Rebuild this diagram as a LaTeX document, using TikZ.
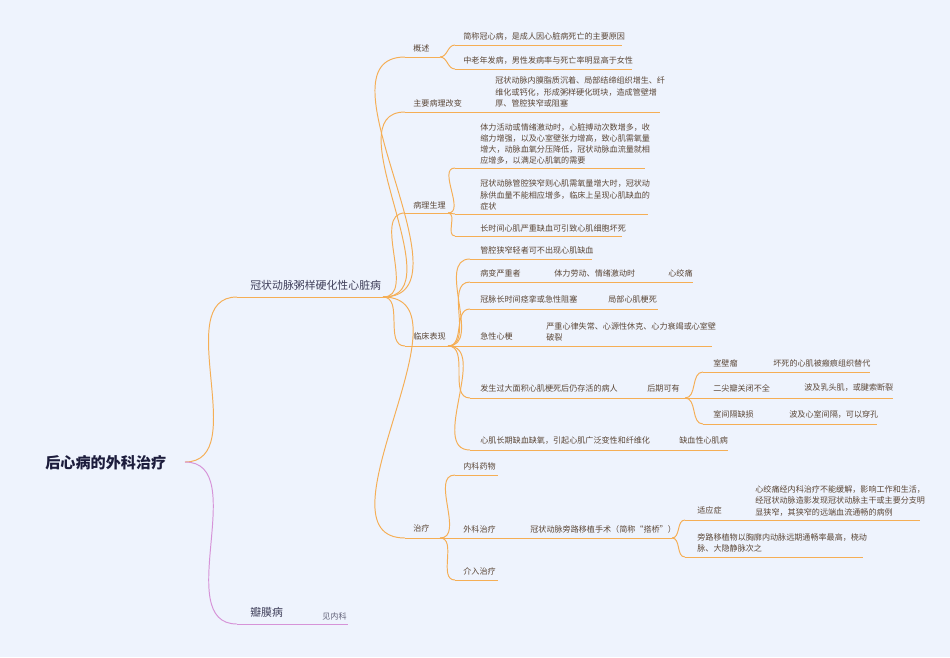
\documentclass[tikz,border=0pt]{standalone}
\usepackage{fontspec}
\setmainfont{Noto Sans CJK SC}
\definecolor{bgblue}{HTML}{EEF3FD}
\definecolor{brorange}{HTML}{F5AE55}
\definecolor{brpink}{HTML}{D693D8}
\definecolor{txtbrown}{HTML}{5A4636}
\definecolor{titlenavy}{HTML}{1C1C3C}
\tikzset{
  br/.style={draw=brorange, line width=0.55pt},
  brp/.style={draw=brpink, line width=0.55pt},
  leaf/.style={anchor=west, inner sep=0pt, text=txtbrown, font=\fontsize{4.6}{6.4}\selectfont, align=left},
  lone/.style={anchor=west, inner sep=0pt, text=titlenavy!85, font=\fontsize{6.2}{7.5}\selectfont},
  rootnode/.style={anchor=west, inner sep=0pt, text=titlenavy, font=\bfseries\fontsize{8.6}{10}\selectfont},
}
% underline with named ends
\newcommand\mmline[5][br]{%
  \coordinate (#2-a) at (#3,#5);
  \coordinate (#2-b) at (#4,#5);
  \draw[#1] (#2-a) -- (#2-b);}
\newcommand\mmlink[3][br]{\draw[#1] (#2) to[out=0,in=180] (#3);}
\begin{document}
\begin{tikzpicture}[x=0.02cm, y=-0.02cm]
  \fill[bgblue] (0,0) rectangle (950,657);
  \useasboundingbox (0,0) rectangle (950,657);

  % root
  \node[rootnode] (root) at (45,463) {后心病的外科治疗};
  \coordinate (root-b) at (185,462);

  % level one
  \node[lone] (cad) at (250,285) {冠状动脉粥样硬化性心脏病};
  \mmline{cad}{237}{383}{297}
  \node[lone] (valve) at (250,612) {瓣膜病};
  \mmline[brp]{valve}{237}{320}{624}
  \node[leaf, text=titlenavy!70] (valvesee) at (322,616) {见内科};
  \mmline[brp]{valvesee}{320}{348}{624}
  \mmlink{root-b}{cad-a}
  \mmlink[brp]{root-b}{valve-a}

  % 概述
  \node[leaf] (gs) at (413,48) {概述};
  \mmline{gs}{405}{440}{57}
  \node[leaf] (gs1) at (463,37) {简称冠心病，是成人因心脏病死亡的主要原因};
  \mmline{gs1}{455}{622}{45}
  \node[leaf] (gs2) at (463,60) {中老年发病，男性发病率与死亡率明显高于女性};
  \mmline{gs2}{455}{632}{69}
  \mmlink{cad-b}{gs-a}
  \mmlink{gs-b}{gs1-a}
  \mmlink{gs-b}{gs2-a}

  % 主要病理改变
  \node[leaf] (bl) at (413,103) {主要病理改变};
  \mmline{bl}{405}{488}{112}
  \node[leaf] (bl1) at (495,92) {冠状动脉内膜脂质沉着、局部结缔组织增生、纤\\维化或钙化，形成粥样硬化斑块，造成管壁增\\厚、管腔狭窄或阻塞};
  \mmline{bl1}{488}{660}{112}
  \mmlink{cad-b}{bl-a}

  % 病理生理
  \node[leaf] (sl) at (413,205) {病理生理};
  \mmline{sl}{405}{448}{213}
  \node[leaf] (sl1) at (480,144) {体力活动或情绪激动时，心脏搏动次数增多，收\\缩力增强，以及心室壁张力增高，致心肌需氧量\\增大，动脉血氧分压降低，冠状动脉血流量就相\\应增多，以满足心肌氧的需要};
  \mmline{sl1}{455}{645}{168}
  \node[leaf] (sl2) at (480,195) {冠状动脉管腔狭窄则心肌需氧量增大时，冠状动\\脉供血量不能相应增多，临床上呈现心肌缺血的\\症状};
  \mmline{sl2}{455}{648}{214}
  \node[leaf] (sl3) at (480,228) {长时间心肌严重缺血可引致心肌细胞坏死};
  \mmline{sl3}{455}{622}{236}
  \mmlink{cad-b}{sl-a}
  \mmlink{sl-b}{sl1-a}
  \mmlink{sl-b}{sl2-a}
  \mmlink{sl-b}{sl3-a}

  % 临床表现
  \node[leaf] (lc) at (413,336) {临床表现};
  \mmline{lc}{405}{448}{346}
  \mmlink{cad-b}{lc-a}
  \node[leaf] (lc1) at (480,250) {管腔狭窄轻者可不出现心肌缺血};
  \mmline{lc1}{470}{592}{259}
  \node[leaf] (lc2) at (480,273) {病变严重者};
  \mmline{lc2}{470}{545}{282}
  \node[leaf] (lc2a) at (554,273) {体力劳动、情绪激动时};
  \mmline{lc2a}{545}{660}{282}
  \node[leaf] (lc2b) at (668,273) {心绞痛};
  \mmline{lc2b}{660}{693}{282}
  \node[leaf] (lc3) at (480,299) {冠脉长时间痉挛或急性阻塞};
  \mmline{lc3}{470}{605}{309}
  \node[leaf] (lc3a) at (608,299) {局部心肌梗死};
  \mmline{lc3a}{605}{658}{309}
  \node[leaf] (lc4) at (480,336) {急性心梗};
  \mmline{lc4}{470}{540}{346}
  \node[leaf] (lc4a) at (546,332) {严重心律失常、心源性休克、心力衰竭或心室壁\\破裂};
  \mmline{lc4a}{540}{712}{346}
  \node[leaf] (lc5) at (480,388) {发生过大面积心肌梗死后仍存活的病人};
  \mmline{lc5}{470}{640}{398}
  \node[leaf] (lc5a) at (647,388) {后期可有};
  \mmline{lc5a}{640}{685}{398}
  \node[leaf] (hq1) at (713,363) {室壁瘤};
  \mmline{hq1}{703}{765}{372}
  \node[leaf] (hq1a) at (773,363) {坏死的心肌被瘢痕组织替代};
  \mmline{hq1a}{765}{870}{372}
  \node[leaf] (hq2) at (713,388) {二尖瓣关闭不全};
  \mmline{hq2}{703}{795}{398}
  \node[leaf] (hq2a) at (804,388) {波及乳头肌，或腱索断裂};
  \mmline{hq2a}{795}{893}{398}
  \node[leaf] (hq3) at (713,414) {室间隔缺损};
  \mmline{hq3}{703}{783}{424}
  \node[leaf] (hq3a) at (789,414) {波及心室间隔，可以穿孔};
  \mmline{hq3a}{783}{877}{424}
  \node[leaf] (lc6) at (480,440) {心肌长期缺血缺氧，引起心肌广泛变性和纤维化};
  \mmline{lc6}{470}{672}{450}
  \node[leaf] (lc6a) at (679,440) {缺血性心肌病};
  \mmline{lc6a}{672}{728}{450}
  \foreach \c in {lc1,lc2,lc3,lc4,lc5,lc6} {\mmlink{lc-b}{\c-a}}
  \foreach \c in {hq1,hq2,hq3} {\mmlink{lc5a-b}{\c-a}}

  % 治疗
  \node[leaf] (zl) at (413,528) {治疗};
  \mmline{zl}{405}{440}{538}
  \mmlink{cad-b}{zl-a}
  \node[leaf] (zl1) at (463,466) {内科药物};
  \mmline{zl1}{455}{498}{475}
  \node[leaf] (zl2) at (463,529) {外科治疗};
  \mmline{zl2}{455}{525}{538}
  \node[leaf] (zl2a) at (530,529) {冠状动脉旁路移植手术（简称“搭桥”）};
  \mmline{zl2a}{525}{672}{538}
  \node[leaf] (syz) at (697,510) {适应症};
  \mmline{syz}{685}{750}{520}
  \node[leaf] (syza) at (755,501) {心绞痛经内科治疗不能缓解，影响工作和生活，\\经冠状动脉造影发现冠状动脉主干或主要分支明\\显狭窄，其狭窄的远端血流通畅的病例};
  \mmline{syza}{750}{920}{520}
  \node[leaf] (yzw) at (697,543) {旁路移植物以胸廓内动脉远期通畅率最高，桡动\\脉、大隐静脉次之};
  \mmline{yzw}{685}{863}{557}
  \node[leaf] (zl3) at (463,571) {介入治疗};
  \mmline{zl3}{455}{498}{580}
  \foreach \c in {zl1,zl2,zl3} {\mmlink{zl-b}{\c-a}}
  \foreach \c in {syz,yzw} {\mmlink{zl2a-b}{\c-a}}
\end{tikzpicture}
\end{document}
